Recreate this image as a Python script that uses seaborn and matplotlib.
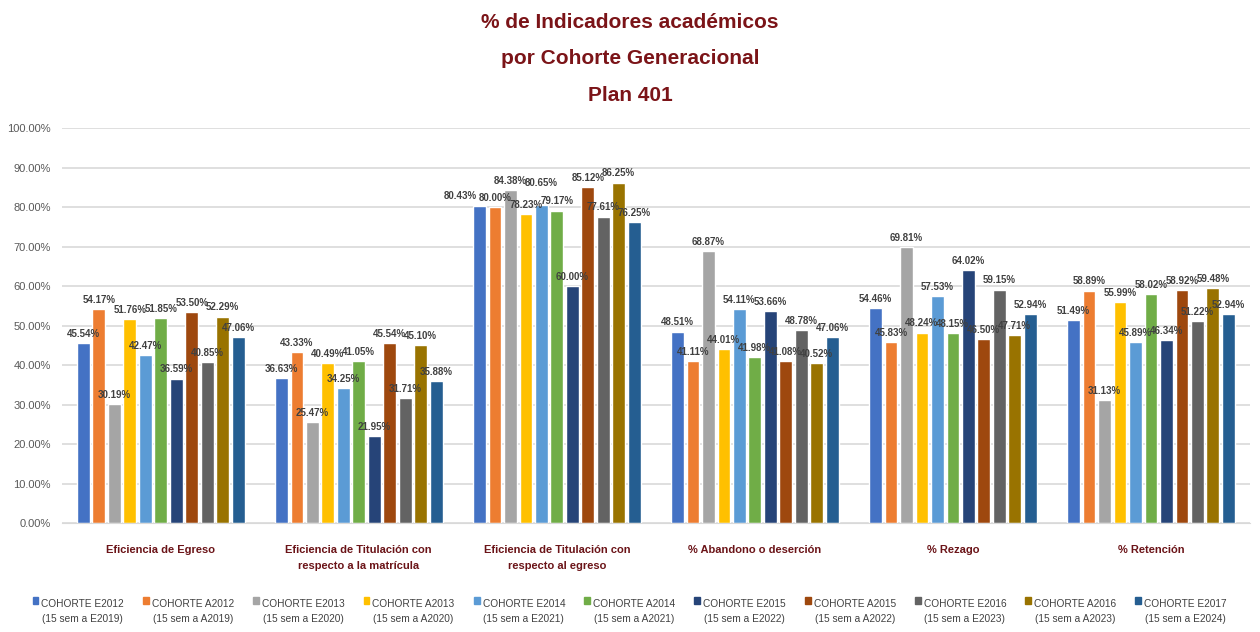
import pandas as pd
import matplotlib
matplotlib.use("Agg")
import matplotlib.pyplot as plt
import matplotlib.patches as mpatches
from matplotlib.legend_handler import HandlerPatch
import seaborn as sns
from matplotlib.ticker import FuncFormatter

indicadores = [
    "Eficiencia de Egreso",
    "Eficiencia de Titulación con\nrespecto a la matrícula",
    "Eficiencia de Titulación con\nrespecto al egreso",
    "% Abandono o deserción",
    "% Rezago",
    "% Retención",
]
cohortes = [
    "COHORTE E2012\n(15 sem a E2019)",
    "COHORTE A2012\n(15 sem a A2019)",
    "COHORTE E2013\n(15 sem a E2020)",
    "COHORTE A2013\n(15 sem a A2020)",
    "COHORTE E2014\n(15 sem a E2021)",
    "COHORTE A2014\n(15 sem a A2021)",
    "COHORTE E2015\n(15 sem a E2022)",
    "COHORTE A2015\n(15 sem a A2022)",
    "COHORTE E2016\n(15 sem a E2023)",
    "COHORTE A2016\n(15 sem a A2023)",
    "COHORTE E2017\n(15 sem a E2024)",
]
# valores por indicador (una lista por indicador, en orden de cohorte)
eficiencia_egreso = [45.54, 54.17, 30.19, 51.76, 42.47, 51.85, 36.59, 53.50, 40.85, 52.29, 47.06]
titulacion_matricula = [36.63, 43.33, 25.47, 40.49, 34.25, 41.05, 21.95, 45.54, 31.71, 45.10, 35.88]
titulacion_egreso = [80.43, 80.00, 84.38, 78.23, 80.65, 79.17, 60.00, 85.12, 77.61, 86.25, 76.25]
abandono = [48.51, 41.11, 68.87, 44.01, 54.11, 41.98, 53.66, 41.08, 48.78, 40.52, 47.06]
rezago = [54.46, 45.83, 69.81, 48.24, 57.53, 48.15, 64.02, 46.50, 59.15, 47.71, 52.94]
retencion = [51.49, 58.89, 31.13, 55.99, 45.89, 58.02, 46.34, 58.92, 51.22, 59.48, 52.94]

colores = ["#4472C4", "#ED7D31", "#A5A5A5", "#FFC000", "#5B9BD5", "#70AD47",
           "#264478", "#9E480E", "#636363", "#997300", "#255E91"]

series = [eficiencia_egreso, titulacion_matricula, titulacion_egreso, abandono, rezago, retencion]
filas = []
for ind, vals in zip(indicadores, series):
    for coh, v in zip(cohortes, vals):
        filas.append({"indicador": ind, "cohorte": coh, "valor": v})
df = pd.DataFrame(filas)

sns.set_style("white")
plt.rcParams["font.family"] = ["Liberation Sans", "DejaVu Sans"]

fig = plt.figure(figsize=(12.6, 6.32), dpi=100)
ax = fig.add_axes([0.049, 0.1725, 0.943, 0.6245])

sns.barplot(data=df, x="indicador", y="valor", hue="cohorte", order=indicadores,
            hue_order=cohortes, palette=colores, width=0.86, gap=0.18,
            saturation=1, legend=False, ax=ax)

etiquetas = []
for cont in ax.containers:
    etiquetas.append(ax.bar_label(cont, labels=[f"{b.get_height():.2f}%" for b in cont],
                                  padding=3, fontsize=7, color="#404040", fontweight="bold"))
# como en el original, algunas etiquetas se desplazan para no taparse
etiquetas[0][2].set_ha("right")
etiquetas[0][2].xyann = (-2, 3)
etiquetas[4][2].xyann = (0, 12)

ax.set_ylim(0, 100)
ax.set_xlim(-0.5, 5.5)
ax.set_yticks(range(0, 101, 10))
ax.yaxis.set_major_formatter(FuncFormatter(lambda v, p: f"{v:.2f}%"))
ax.grid(axis="y", color="#D9D9D9", linewidth=1.2)
ax.set_axisbelow(True)
for s in ["top", "right", "left"]:
    ax.spines[s].set_visible(False)
ax.spines["bottom"].set_color("#D9D9D9")
ax.tick_params(axis="y", length=0, labelsize=8, labelcolor="#595959", pad=8)
ax.tick_params(axis="x", length=0, labelsize=8, labelcolor="#6B1418", pad=16)
for t in ax.get_xticklabels():
    t.set_fontweight("bold")
    t.set_linespacing(1.75)
ax.set_xlabel("")
ax.set_ylabel("")

fig.text(0.5, 0.98, "% de Indicadores académicos\npor Cohorte Generacional\nPlan 401",
         ha="center", va="top", fontsize=15, fontweight="bold", color="#7B1418",
         linespacing=2.18)


# cuadro de la leyenda alineado con la primera línea del texto
def cuadro(legend, orig_handle, xdescent, ydescent, width, height, fontsize):
    return mpatches.Rectangle((-xdescent, -ydescent + fontsize * 1.1), width, height)


handles = [mpatches.Patch(color=c) for c in colores]
leg = ax.legend(handles, cohortes, loc="upper center", bbox_to_anchor=(0.478, -0.17),
                ncol=11, frameon=False, fontsize=7.3, handlelength=0.55, handleheight=0.7,
                handletextpad=0.3, columnspacing=1.9, labelcolor="#404040",
                handler_map={mpatches.Patch: HandlerPatch(patch_func=cuadro)})
for t in leg.get_texts():
    t.set_multialignment("center")
    t.set_linespacing(1.6)

fig.savefig("out.png", dpi=100)
